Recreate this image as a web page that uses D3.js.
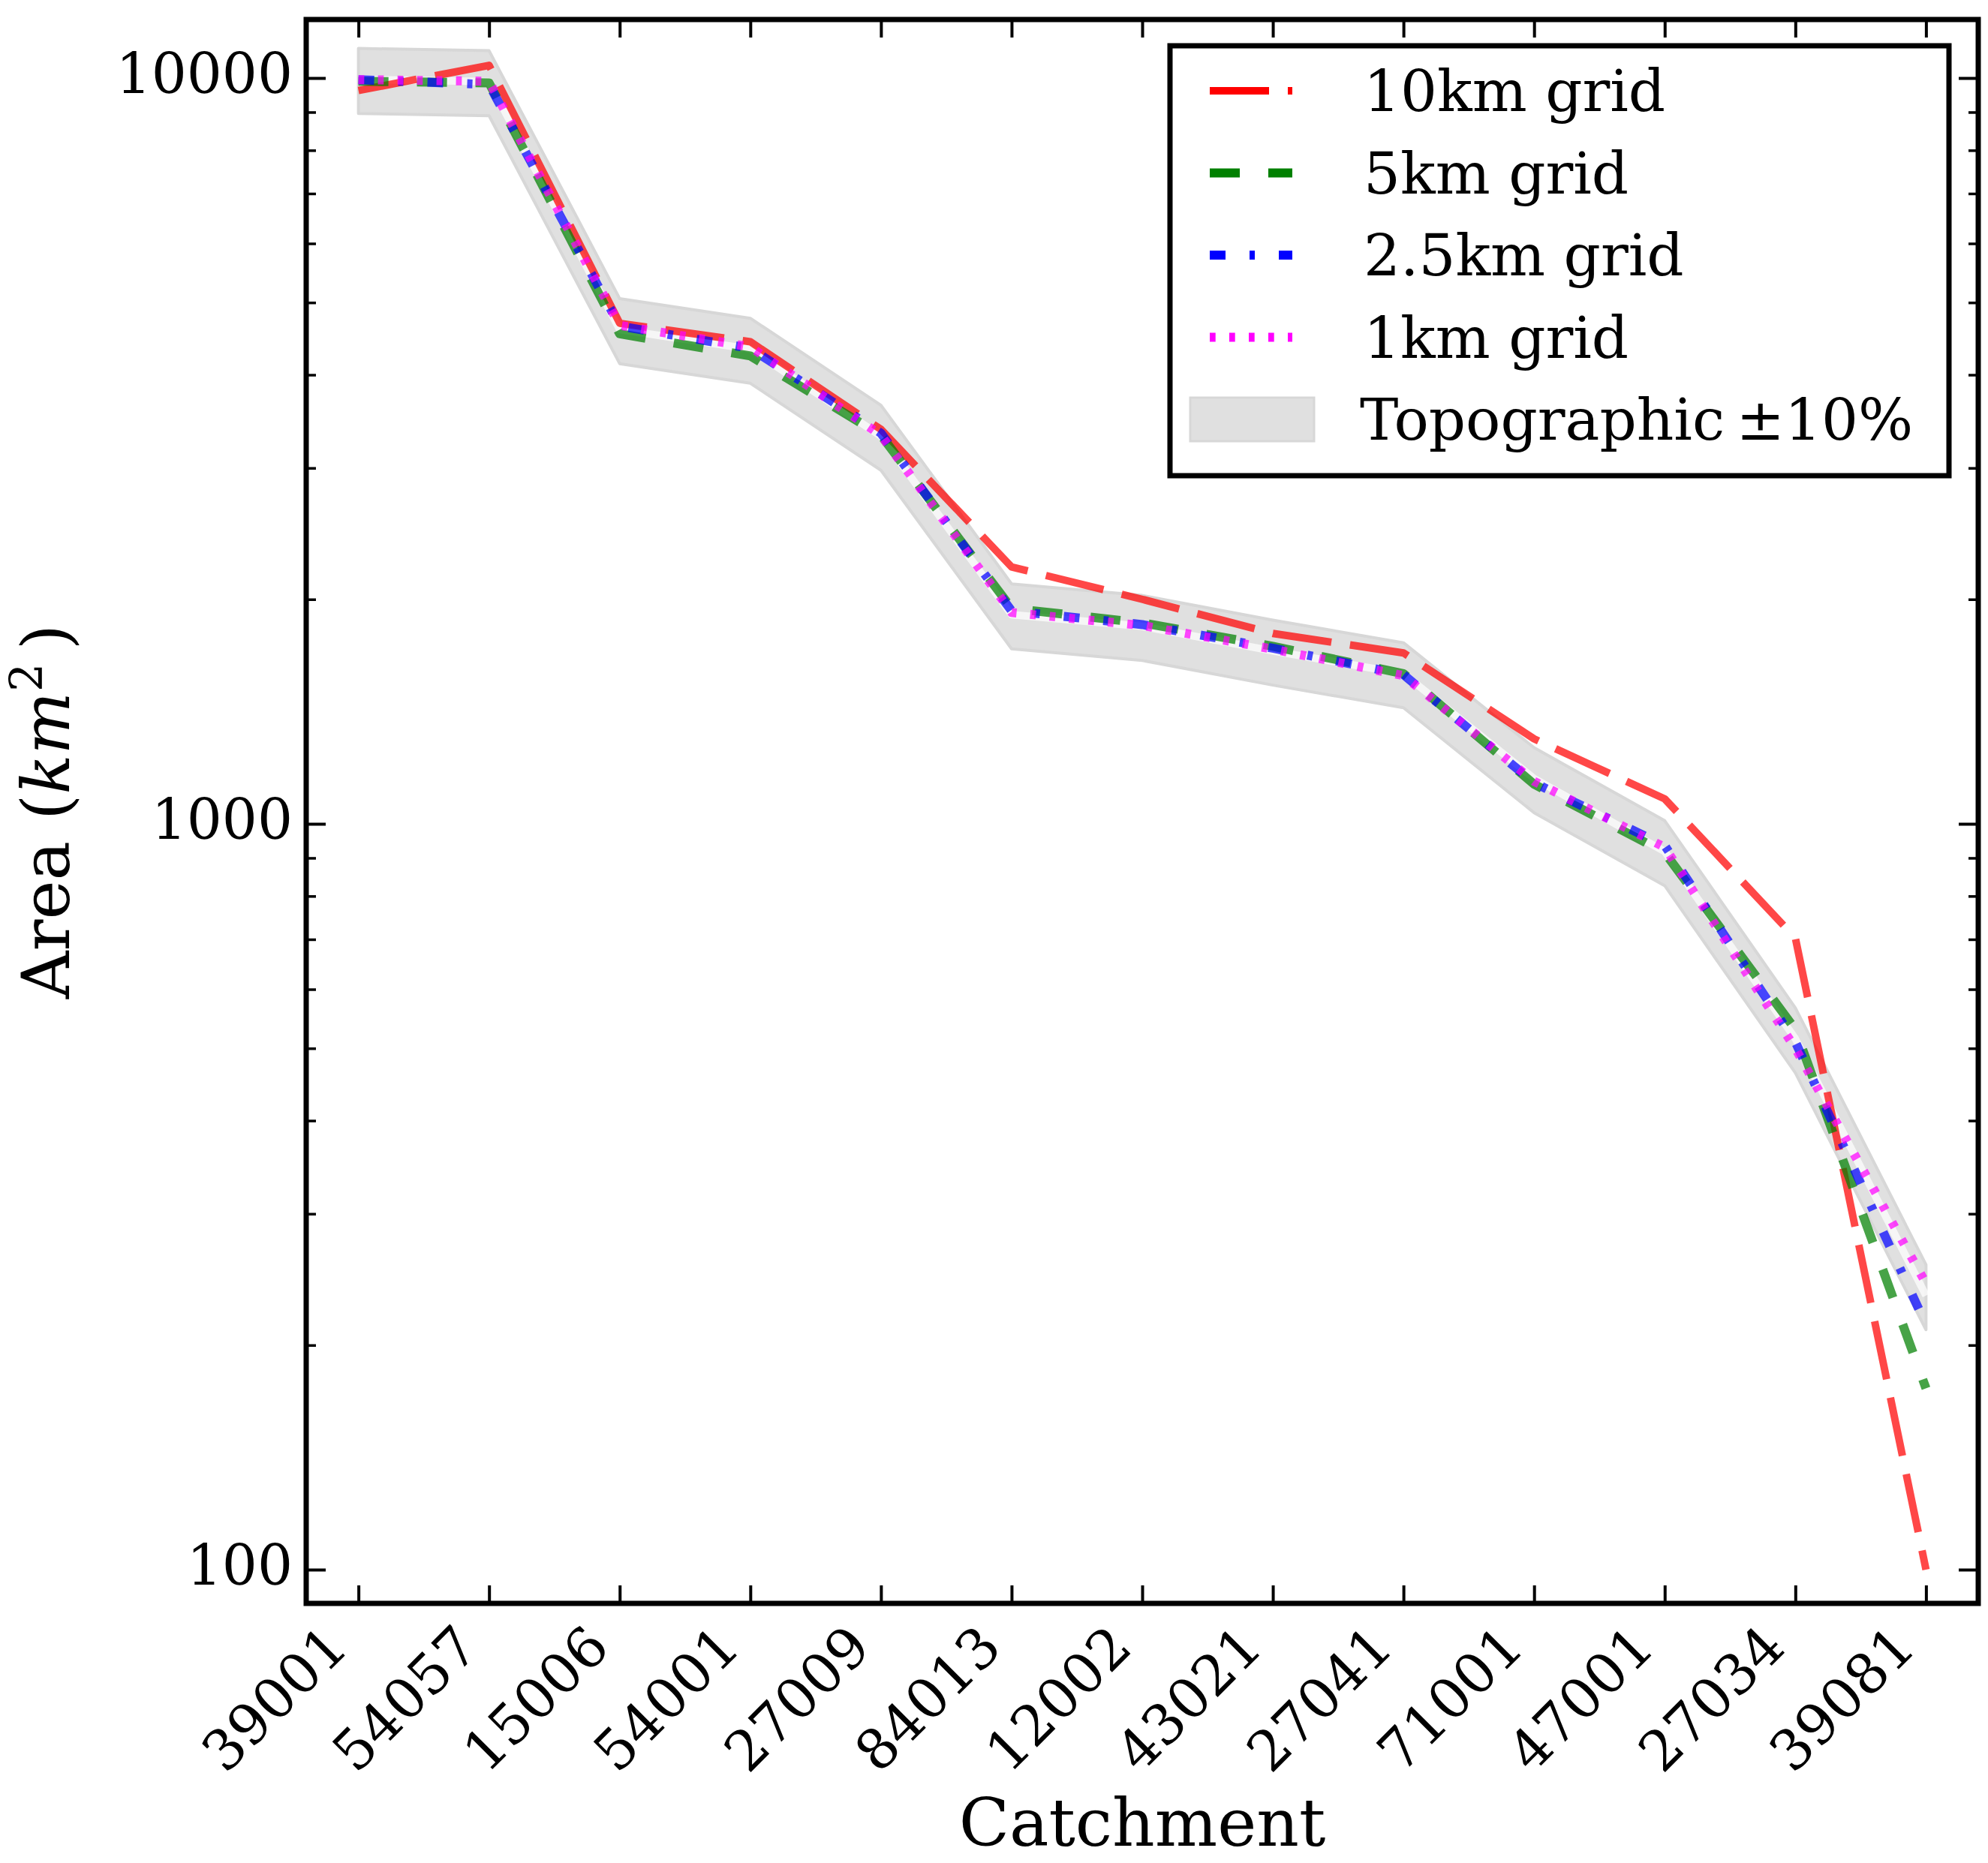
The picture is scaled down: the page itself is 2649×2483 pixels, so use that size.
<!DOCTYPE html>
<html>
<head>
<meta charset="utf-8">
<script src="https://cdn.jsdelivr.net/npm/d3@7"></script>
<style>
    body { margin: 0; background: #fff; }
    svg { display: block; }
</style>
</head>
<body>
<div id="chart"></div>
<script>
// Catchment area per grid resolution, log y axis

const catchments = ['39001', '54057', '15006', '54001', '27009', '84013', '12002',
    '43021', '27041', '71001', '47001', '27034', '39081'];

const topographic = [9960, 9890, 4600, 4330, 3310, 1907, 1840, 1705, 1590, 1150, 918, 515, 233];
const grid10km = [9620, 10400, 4690, 4430, 3380, 2210, 2000, 1800, 1695, 1300, 1080, 703, 100];
const grid5km = [9900, 9850, 4540, 4240, 3320, 1945, 1860, 1730, 1590, 1130, 915, 530, 175];
const grid2p5km = [9950, 9800, 4650, 4340, 3340, 1930, 1850, 1720, 1585, 1135, 935, 510, 213];
const grid1km = [9950, 9900, 4660, 4360, 3320, 1920, 1845, 1715, 1580, 1140, 930, 500, 242];

const yMajorTicks = [100, 1000, 10000];
const yMinorTicks = [200, 300, 400, 500, 600, 700, 800, 900,
    2000, 3000, 4000, 5000, 6000, 7000, 8000, 9000];
const yLimits = [90.1, 11980];
const bandFraction = 0.1;

const series = [
    { name: '10km grid', values: grid10km, color: '#ff0000', width: 10, dash: '79,25' },
    { name: '5km grid', values: grid5km, color: '#008000', width: 12, dash: '40,38' },
    { name: '2.5km grid', values: grid2p5km, color: '#0000ff', width: 12, dash: '21,32,7,32' },
    { name: '1km grid', values: grid1km, color: '#ff00ff', width: 12, dash: '7.7,18.3' }
];

const W = 2649, H = 2483;
const plot = { left: 408, right: 2636, top: 26, bottom: 2137 };
const serif = "'DejaVu Serif', serif";

const svg = d3.select('#chart').append('svg')
    .attr('width', W)
    .attr('height', H)
    .style('background', '#fff');

const x = d3.scaleLinear().domain([-0.4, catchments.length - 1 + 0.4]).range([plot.left, plot.right]);
const y = d3.scaleLog().domain(yLimits).range([plot.bottom, plot.top]);

const idx = d3.range(catchments.length);

// topographic band +-10%
const band = d3.area()
    .x(i => x(i))
    .y0(i => y(topographic[i] * (1 - bandFraction)))
    .y1(i => y(topographic[i] * (1 + bandFraction)));

svg.append('path')
    .datum(idx)
    .attr('d', band)
    .attr('fill', '#e0e0e0')
    .attr('stroke', '#d7d7d7')
    .attr('stroke-width', 4)
    .attr('stroke-linejoin', 'round');

const line = values => d3.line().x(i => x(i)).y(i => y(values[i]))(idx);

svg.append('path')
    .attr('d', line(topographic))
    .attr('fill', 'none')
    .attr('stroke', '#fff')
    .attr('stroke-opacity', 0.7)
    .attr('stroke-width', 10)
    .attr('stroke-linejoin', 'round');

series.forEach(s => {
    svg.append('path')
        .attr('d', line(s.values))
        .attr('fill', 'none')
        .attr('stroke', s.color)
        .attr('stroke-opacity', 0.72)
        .attr('stroke-width', s.width)
        .attr('stroke-dasharray', s.dash)
        .attr('stroke-linecap', 'butt')
        .attr('stroke-linejoin', 'round');
});

// axes, ticks pointing inward on all four sides
function styleAxis(g, width) {
    g.select('.domain').remove();
    g.selectAll('.tick line').attr('stroke', '#000').attr('stroke-width', width);
    g.attr('font-family', serif).attr('font-size', 74);
    g.selectAll('.tick text').attr('fill', '#000');
}

const xBottom = svg.append('g')
    .attr('transform', `translate(0,${plot.bottom})`)
    .call(d3.axisBottom(x).tickValues(idx).tickSize(-24).tickFormat(i => catchments[i]))
    .call(g => styleAxis(g, 4));

xBottom.selectAll('.tick text')
    .attr('y', null)
    .attr('dy', null)
    .attr('text-anchor', 'end')
    .attr('transform', 'translate(-11,62) rotate(-45)');

svg.append('g')
    .attr('transform', `translate(0,${plot.top})`)
    .call(d3.axisTop(x).tickValues(idx).tickSize(-24).tickFormat(''))
    .call(g => styleAxis(g, 4));

svg.append('g')
    .attr('transform', `translate(${plot.left},0)`)
    .call(d3.axisLeft(y).tickValues(yMajorTicks).tickSize(-26).tickPadding(18).tickFormat(d3.format('d')))
    .call(g => styleAxis(g, 4))
    .call(g => g.selectAll('.tick text').attr('dy', '0.27em'));

svg.append('g')
    .attr('transform', `translate(${plot.left},0)`)
    .call(d3.axisLeft(y).tickValues(yMinorTicks).tickSize(-13).tickFormat(''))
    .call(g => styleAxis(g, 3.5));

svg.append('g')
    .attr('transform', `translate(${plot.right},0)`)
    .call(d3.axisRight(y).tickValues(yMajorTicks).tickSize(-26).tickFormat(''))
    .call(g => styleAxis(g, 4));

svg.append('g')
    .attr('transform', `translate(${plot.right},0)`)
    .call(d3.axisRight(y).tickValues(yMinorTicks).tickSize(-13).tickFormat(''))
    .call(g => styleAxis(g, 3.5));

// frame
svg.append('rect')
    .attr('x', plot.left)
    .attr('y', plot.top)
    .attr('width', plot.right - plot.left)
    .attr('height', plot.bottom - plot.top)
    .attr('fill', 'none')
    .attr('stroke', '#000')
    .attr('stroke-width', 7);

// axis labels
svg.append('text')
    .attr('x', (plot.left + plot.right) / 2)
    .attr('y', 2460)
    .attr('text-anchor', 'middle')
    .attr('font-family', serif)
    .attr('font-size', 88)
    .text('Catchment');

const yLabel = svg.append('text')
    .attr('transform', `translate(92,${(plot.top + plot.bottom) / 2}) rotate(-90)`)
    .attr('text-anchor', 'middle')
    .attr('font-family', serif)
    .attr('font-size', 88);
yLabel.append('tspan').text('Area (');
yLabel.append('tspan').attr('font-style', 'italic').text('km');
yLabel.append('tspan').attr('font-size', 60).attr('dy', -36).text('2');
yLabel.append('tspan').attr('dy', 36).text('\u2009)');

// legend
const legend = svg.append('g');
legend.append('rect')
    .attr('x', 1559)
    .attr('y', 61)
    .attr('width', 1038)
    .attr('height', 573)
    .attr('fill', '#fff')
    .attr('stroke', '#000')
    .attr('stroke-width', 7);

const rowY = i => 121 + i * 109.5;

series.forEach((s, i) => {
    legend.append('line')
        .attr('x1', 1612).attr('x2', 1722)
        .attr('y1', rowY(i)).attr('y2', rowY(i))
        .attr('stroke', s.color)
        .attr('stroke-width', s.width)
        .attr('stroke-dasharray', s.dash)
        .attr('stroke-linecap', 'butt');
    legend.append('text')
        .attr('x', 1817)
        .attr('y', rowY(i) + 27)
        .attr('font-family', serif)
        .attr('font-size', 77)
        .text(s.name);
});

legend.append('rect')
    .attr('x', 1586)
    .attr('y', rowY(4) - 29)
    .attr('width', 165)
    .attr('height', 58)
    .attr('fill', '#e0e0e0')
    .attr('stroke', '#d7d7d7')
    .attr('stroke-width', 3);

legend.append('text')
    .attr('x', 1812)
    .attr('y', rowY(4) + 27)
    .attr('font-family', serif)
    .attr('font-size', 77)
    .text('Topographic\u2009\u00b110%');
</script>
</body>
</html>
